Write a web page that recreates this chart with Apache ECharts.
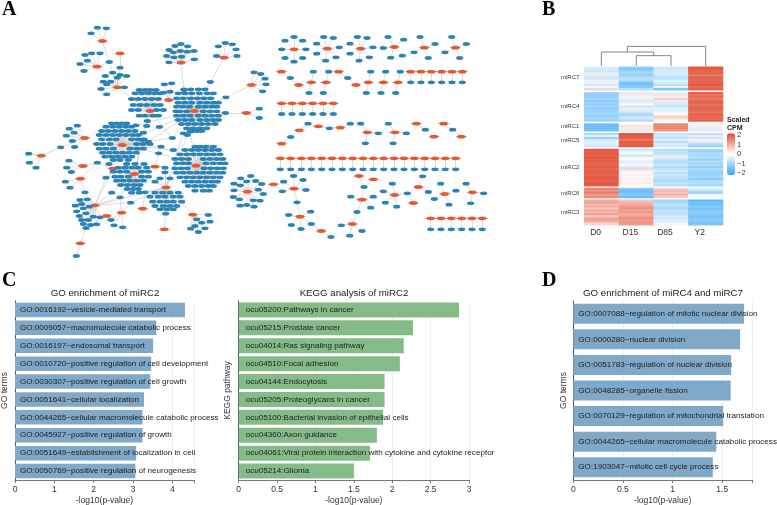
<!DOCTYPE html>
<html><head><meta charset="utf-8">
<style>html,body{margin:0;padding:0;background:#fff}#c{width:777px;height:505px}</style>
<script src="https://cdn.jsdelivr.net/npm/echarts@6/dist/echarts.min.js"></script></head>
<body><div id="c"></div>
<script>
// ---------- bar panels ----------
const goTerms=["GO:0016192~vesicle-mediated transport","GO:0009057~macromolecule catabolic process","GO:0016197~endosomal transport","GO:0010720~positive regulation of cell development","GO:0030307~positive regulation of cell growth","GO:0051641~cellular localization","GO:0044265~cellular macromolecule catabolic process","GO:0045927~positive regulation of growth","GO:0051649~establishment of localization in cell","GO:0050769~positive regulation of neurogenesis"];
const goValues=[4.32,3.59,3.51,3.46,3.44,3.28,3.24,3.24,3.08,3.06];
const keggTerms=["ocu05200:Pathways in cancer","ocu05215:Prostate cancer","ocu04014:Ras signaling pathway","ocu04510:Focal adhesion","ocu04144:Endocytosis","ocu05205:Proteoglycans in cancer","ocu05100:Bacterial invasion of epithelial cells","ocu04360:Axon guidance","ocu04061:Viral protein interaction with cytokine and cytokine receptor","ocu05214:Glioma"];
const keggValues=[2.87,2.27,2.15,2.10,1.90,1.90,1.88,1.80,1.71,1.50];
const go47Terms=["GO:0007088~regulation of mitotic nuclear division","GO:0000280~nuclear division","GO:0051783~regulation of nuclear division","GO:0048285~organelle fission","GO:0070129~regulation of mitochondrial translation","GO:0044265~cellular macromolecule catabolic process","GO:1903047~mitotic cell cycle process"];
const go47Values=[1.72,1.68,1.59,1.585,1.51,1.44,1.405];
// ---------- heatmap ----------
const samples=["D0","D15","D85","Y2"];
const legendTicks=[2,1,0,-1,-2];
const miRC7=[[-0.4,-1.2,-0.5,2.0],[-0.5,-1.4,-0.6,2.0],[-0.6,-1.1,-0.5,1.9],[-0.3,-1.0,-0.4,2.0],[0.3,-1.2,-0.6,1.6],[-0.6,-0.9,-0.8,2.0],[-0.5,-0.8,-0.7,1.9],[0.2,-1.0,-0.3,1.9],[-0.3,-1.5,-0.5,1.9],[-0.5,-1.4,-0.8,2.0],[-0.2,-1.3,-0.2,1.8],[0.5,-0.8,-1.4,1.9]];
const miRC4=[[-1.1,-0.4,-0.3,1.9],[-1.2,0.3,0.4,1.7],[-1.2,-0.2,-0.2,1.8],[-1.0,0.2,0.6,1.6],[-1.3,-0.5,0.3,1.8],[-1.1,-0.3,-0.4,1.9],[-1.2,0.1,-0.5,1.7],[-1.0,-0.6,-0.6,1.8],[-1.2,0.3,-0.3,1.9],[-1.1,-0.4,-0.4,1.8],[-1.0,-0.6,0.1,1.7],[-1.1,-1.0,0.0,1.9],[-1.2,-0.7,0.6,1.8],[-1.0,-0.5,0.5,1.9],[-1.1,-0.9,-0.2,1.9]];
const miRC1=[[-1.6,0.1,1.4,0.2],[-1.7,0.4,1.5,-0.2],[-1.6,-0.3,1.5,0.3],[-1.5,0.3,1.3,-0.4]];
const miRC5=[[-0.9,2.0,-0.6,-0.7],[-0.3,2.0,-0.5,0.3],[-1.1,1.9,-0.7,-0.6],[-0.5,1.6,-0.3,-0.2],[-0.3,2.0,-0.8,0.3],[-0.4,1.9,-0.4,-0.8],[-0.5,2.0,-0.5,-1.1]];
const miRC2=[[2.0,-0.6,-0.8,-1.0],[1.9,-0.3,-0.6,-1.2],[2.0,0.0,-0.8,-0.8],[1.9,-0.6,-0.4,-1.0],[2.0,-0.2,0.3,-0.8],[1.9,0.0,-0.6,-1.1],[2.0,-0.4,-0.9,-0.8],[1.9,0.2,-0.7,-1.1],[2.0,-0.1,-0.6,-0.9],[2.0,-0.5,-0.9,-1.2],[1.9,0.5,-0.7,-0.9],[2.0,-0.2,-0.5,-1.1],[2.0,0.1,-0.8,-1.2],[1.9,0.2,-0.6,-1.1],[2.0,0.1,-0.7,-1.0],[2.0,0.2,-0.8,-1.2],[1.9,0.1,-0.9,-0.9],[2.0,0.2,-0.7,-0.8],[2.0,0.1,-0.8,-1.0]];
const miRC6=[[1.5,-1.3,0.5,-0.3],[1.3,-1.6,0.9,-0.8],[1.6,-1.5,0.7,-1.1],[1.2,-1.3,0.9,-0.2],[1.4,-1.6,0.6,-0.1]];
const miRC3=[[1.0,0.7,-1.0,-1.7],[1.1,0.9,-0.9,-1.5],[0.8,1.0,-0.7,-1.6],[1.0,1.2,-0.8,-1.3],[0.7,1.3,-1.0,-1.5],[1.1,1.1,-0.6,-1.4],[0.9,1.3,-0.7,-1.3],[1.2,1.0,-0.8,-1.4],[0.7,1.2,-0.5,-1.5],[1.1,1.4,-0.6,-1.4],[1.2,1.2,-0.4,-1.3],[0.8,1.3,-0.3,-1.5],[0.5,1.2,-0.2,-1.4]];
const clusterNames=["miRC7","miRC4","miRC1","miRC5","miRC2","miRC6","miRC3"];
const clusterRows=[miRC7,miRC4,miRC1,miRC5,miRC2,miRC6,miRC3];
// dendrogram joins in layout units (x1,x2,top y, leg bottoms)
const dendro=[[319,423,167,198,198],[214,371,156,198,167],[292,527,139,156,198]];
// ---------- network (layout units, left part) ----------
const starsLeft=[
[[307,123],[[292,83],[319,85],[273,100],[328,186]]],
[[360,160],[[360,203]]],
[[291,200],[[255,165],[275,160],[300,160],[262,182],[240,192],[252,213],[328,186]]],
[[352,262],[[328,186],[360,203],[316,228],[360,225],[380,228],[338,218],[352,233],[310,245],[332,245],[320,253],[303,267],[373,262],[320,283]]],
[[543,188],[[507,150],[525,138],[543,132],[563,139],[582,153],[520,157],[541,153],[562,155],[500,168],[522,172],[545,170],[583,178],[507,187],[552,270]]],
[[672,173],[[655,139],[676,129],[697,133],[708,148],[650,168],[711,168],[631,246]]],
[[754,255],[[762,217],[782,222],[795,236],[798,253],[788,274],[678,292]]],
[[739,339],[[676,339],[778,326],[778,354]]],
[[506,300],[[493,253],[515,250],[510,275],[490,278]]],
[[254,414],[[232,377],[208,386],[222,398],[199,407],[217,423],[224,441],[182,442]]],
[[124,467],[[86,461],[88,488],[108,503],[182,442]]],
[[339,506],[[292,488],[327,492],[318,533]]],
[[249,498],[[207,482],[200,503],[214,516],[292,488]]],
[[241,536],[[196,545],[210,563],[292,488],[255,577]]],
[[285,616],[[255,577],[240,600],[262,598],[226,617],[245,612],[230,634],[250,625],[268,620],[238,648],[258,640],[280,650],[300,652],[245,660],[265,660],[290,673],[272,675],[250,672],[335,578],[360,592],[392,608],[318,533]]],
[[365,638],[[342,676],[368,682],[333,660],[392,608],[360,592]]],
[[320,648],[[342,676],[258,684]]],
[[428,626],[[435,577]]],
[[241,730],[[258,684],[229,768]]],
[[493,688],[[497,641]]],
[[578,644],[[625,645],[630,665],[590,658],[585,678],[572,686],[595,696],[615,685],[605,668]]],
[[465,500],[[495,503],[483,440]]]
];
const denseHub8=[583,333], denseHub9=[450,333], denseHub14=[367,435], denseHub15=[588,497], denseHub16=[403,522], denseHub17=[498,562];
const dense8=[[268,552,572,595,615],[280,535,555,575,598,622,640],[295,530,550,572,592,612,632],[308,535,555,575,600,620,640,655],[320,530,548,568,595,615,635,650],[334,528,540,560,610,630,650],[347,530,550,570,595,615,635,655],[360,535,555,575,600,620,640,655],[372,545,565,585,605,625,645],[385,560,580,600,620],[393,575,590,605]];
const dense9=[[270,418,435,450,468],[280,405,425,445,463,480],[297,395,415,435,455,475],[315,400,420,440,462,480],[330,395,415,470,490],[347,418,435,458,475],[363,442]];
const dense14=[[370,335,350,365,380],[380,318,338,358,378,395],[393,305,325,345,365,385,405],[405,298,318,338,358,378,398,415],[418,305,328,348,395,415,432],[432,290,308,330,410,430,450],[446,298,318,340,390,410,430],[458,308,328,348,368,388,408],[470,315,335,355,375,395],[480,340,360,385]];
const dense15=[[440,585,600,618,640],[450,555,575,595,615,635,655],[463,540,560,580,600,620,640,660],[477,525,545,565,610,630,650,668],[490,530,548,565,618,640,660,675],[505,525,543,562,612,632,652,670],[518,530,550,570,590,610,630,650,668],[532,540,560,580,600,620,640,660],[545,555,575,595,615,635,652],[558,565,585,605,625,640],[572,585,610,628]];
const dense16=[[492,380,405,432],[503,355,375,395,415,440],[515,340,360,380,425,445],[530,345,362,385,425,445],[542,350,370,390,410,430],[555,362,382,402,420],[567,382,400,415],[578,395,418]];
const dense17=[[517,495],[535,480,510],[545,465],[578,465,488,510,535],[590,450,475,495,520,540],[605,458,480,500,520,545],[618,465,490,510,530],[628,480,500,520],[641,497]];
const crossLinks=[
[[450,333],[352,262]],[[450,333],[440,378]],[[440,378],[403,522]],[[450,333],[430,398]],[[430,398],[403,522]],
[[583,333],[478,381]],[[478,381],[367,435]],[[583,333],[517,414]],[[517,414],[367,435]],[[450,333],[517,414]],
[[583,333],[550,400]],[[550,400],[498,562]],[[583,333],[570,395]],[[570,395],[588,497]],[[583,333],[562,405]],[[562,405],[498,562]],
[[367,435],[483,440]],[[483,440],[588,497]],[[367,435],[476,460]],[[476,460],[588,497]],[[367,435],[520,450]],[[520,450],[588,497]],
[[367,435],[427,420]],[[427,420],[403,522]],[[367,435],[445,425]],[[445,425],[583,333]],[[408,376],[583,333]],[[408,376],[367,435]],
[[403,522],[465,500]],[[495,503],[498,562]],[[335,578],[403,522]],[[392,608],[498,562]],[[360,592],[403,522]],[[435,577],[498,562]],
[[498,562],[578,644]],[[497,641],[498,562]],[[506,300],[450,333]],[[506,300],[583,333]],[[552,270],[583,333]],[[631,246],[583,333]],[[678,292],[583,333]],[[676,339],[583,333]],
[[285,616],[339,506]],[[285,616],[498,562]]
];
// ---------- network (layout units, right part, relative to its own block) ----------
const starsRight=[
[[67,515],[[47,475],[77,468],[27,491],[46,496],[65,484],[92,483],[110,492],[27,511],[100,509],[115,522],[25,531],[43,538],[85,541],[105,542],[45,557],[65,555],[87,560]]],
[[207,88],[[207,51],[233,62],[243,88],[233,114],[207,125],[180,114],[170,88],[180,62]]],
[[307,86],[[296,51],[325,54],[343,82],[333,112],[302,122],[275,101],[275,71]]],
[[407,86],[[397,51],[426,54],[444,82],[433,112],[402,122],[375,101],[375,71]]],
[[508,81],[[489,51],[536,59],[532,107],[497,113],[475,84]]],
[[598,83],[[585,51],[630,72],[610,114],[567,97]]],
[[691,83],[[680,51],[724,72],[704,114],[660,97]]],
[[259,187],[[265,155],[252,219]]],[[303,187],[[311,155],[295,219]]],
[[430,187],[[437,155],[424,219]]],[[475,187],[[482,155],[468,219]]],[[519,187],[[526,155],[512,219]]],
[[427,337],[[407,311],[460,340],[421,370]]],[[510,337],[[490,311],[544,340],[504,370]]],
[[145,493],[[176,485],[172,514]]],
[[207,506],[[176,485],[172,514],[206,468],[234,480],[243,510],[216,547]]],
[[225,590],[[216,547],[191,585],[257,575],[199,615],[228,627],[259,612]]],
[[289,633],[[259,612],[318,651]]],
[[402,468],[[417,501]]],[[445,478],[[417,501]]],
[[411,539],[[417,501],[377,530],[445,530],[437,563],[396,576]]],
[[382,612],[[396,576],[349,616],[411,633],[374,647]]],
[[509,525],[[502,491],[475,514],[547,520],[481,548],[515,560]]],
[[580,501],[[593,469],[547,520],[610,516]]],[[565,549],[[547,520]]],
[[659,522],[[647,491],[693,512],[628,537],[672,554]]],
[[742,517],[[723,491],[776,520],[737,550]]]
];
const chainsRight=[
[[169,155],[196,174],[221,195]],[[341,155],[368,174],[393,195]],
[[170,371],[197,351],[223,331],[249,311],[280,319],[313,325],[346,323],[376,311]],
[[574,311],[601,329],[627,350]],[[656,311],[683,329],[709,350]]
];
const pairRows=[
[155,187,[557,588,619,650,681,712]],
[250,282,[170,201,232,263,294,325]],
[415,448,[166,197,229,259,290,321,352,383,414,445,476,507,537,568,599,630,661,692]],
[595,628,[617,648,679,710,741,772]]
];
const rightOffset=[675,60], dendroOffset=[1590,0];

// ---------- build ----------
const nodes=[],links=[],idx={};
function node(p,hub){const k=p[0]+','+p[1];if(idx[k]===undefined){idx[k]=nodes.length;nodes.push({value:[p[0],p[1]],hub:!!hub});}else if(hub)nodes[idx[k]].hub=true;return idx[k];}
function link(a,b,ha,hb){links.push({source:node(a,ha),target:node(b,hb)});}
function stars(list,off){list.forEach(s=>{const h=[s[0][0]+off[0],s[0][1]+off[1]];node(h,true);s[1].forEach(l=>link(h,[l[0]+off[0],l[1]+off[1]],true,false));});}
stars(starsLeft,[0,0]);stars(starsRight,rightOffset);
[[denseHub8,dense8],[denseHub9,dense9],[denseHub14,dense14],[denseHub15,dense15],[denseHub16,dense16],[denseHub17,dense17]].forEach(([h,rows])=>{node(h,true);rows.forEach(r=>r.slice(1).forEach(x=>link(h,[x,r[0]],true,false)));});
crossLinks.forEach(c=>link(c[0],c[1]));
chainsRight.forEach(c=>{for(let i=0;i+1<c.length;i++){const a=[c[i][0]+675,c[i][1]+60],b=[c[i+1][0]+675,c[i+1][1]+60];link(a,b,i%2==0,i%2==1);}});
pairRows.forEach(r=>r[2].forEach(x=>link([x+675,r[0]+60],[x+675,r[1]+60],true,false)));
const graphData=nodes.map(n=>({value:n.value,symbolSize:n.hub?[8.5,3.8]:[7.2,3.9],itemStyle:{color:n.hub?'#e8582f':'#2a82b6'}}));
const hubPts=nodes.filter(n=>n.hub).map(n=>n.value);

const heatData=[],rowNames=[];let row=0;
clusterRows.forEach((rows,ci)=>{const mid=Math.floor((rows.length-1)/2);rows.forEach((vals,i)=>{rowNames.push(i===mid?clusterNames[ci]:'');vals.forEach((v,c)=>heatData.push([c,row,v]));row++;});if(ci<clusterRows.length-1){rowNames.push('');row++;}});
const dendroLines=dendro.map(d=>({coords:[[d[0],d[3]],[d[0],d[2]],[d[1],d[2]],[d[1],d[4]]].map(p=>[p[0]+dendroOffset[0],p[1]+dendroOffset[1]])}));

const font='"Liberation Sans",Arial,sans-serif';
function barX(i,max,intv,name,showMax){return {gridIndex:i,type:'value',min:0,max:max,interval:intv,name:name,nameLocation:'middle',nameGap:16,nameTextStyle:{fontSize:8.5,color:'#333',fontFamily:font},
 axisLine:{show:true,lineStyle:{color:'#777',width:1}},axisTick:{show:true,length:3,lineStyle:{color:'#777'}},minorTick:{show:true,splitNumber:5,length:1.5,lineStyle:{color:'#999'}},
 splitLine:{show:true,lineStyle:{color:'#f0f0f0',width:1}},axisLabel:{fontSize:8.5,color:'#333',margin:5.5,fontFamily:font,showMaxLabel:showMax,showMinLabel:true}};}
function barY(i,cats,name,gap){return {gridIndex:i,type:'category',data:cats,inverse:true,name:name,nameLocation:'middle',nameGap:gap,nameTextStyle:{fontSize:8.5,color:'#333',fontFamily:font},
 axisLine:{show:true,lineStyle:{color:'#555',width:1}},axisTick:{show:false},axisLabel:{show:false},splitLine:{show:false}};}
function barS(i,vals,color,w,dist){return {type:'bar',xAxisIndex:i,yAxisIndex:i,data:vals,barWidth:w,itemStyle:{color:color},silent:true,
 label:{show:true,position:'insideLeft',distance:dist,formatter:p=>p.name,fontSize:8.1,color:'#1c1c1c',fontFamily:font}};}
const letter=(t,l,tp)=>({text:t,left:l,top:tp,padding:0,textStyle:{fontFamily:'"Liberation Serif",serif',fontWeight:'bold',fontSize:20,color:'#000'}});
const ttl=(t,cx,tp,fs)=>({text:t,left:cx,top:tp,textAlign:'center',padding:0,textStyle:{fontFamily:font,fontWeight:'normal',fontSize:fs,color:'#222'}});

const gridBase={outerBoundsMode:'none',containLabel:false};
const option={animation:false,backgroundColor:'#fff',
 title:[letter('A',2,0),letter('B',542,0),letter('C',2,271),letter('D',542,271),
  ttl('GO enrichment of miRC2',105,288.5,9.7),ttl('KEGG analysis of miRC2',354,288.5,9.7),ttl('GO enrichment of miRC4 and miRC7',663,288.5,9.7),
  {text:'Scaled\nCPM',left:727,top:116,padding:0,textStyle:{fontFamily:font,fontWeight:'bold',fontSize:7,lineHeight:8,color:'#222'}}],
 grid:[{left:15,width:179,top:301,height:179},{left:238.7,width:230.3,top:301,height:179},{left:573.3,width:178.7,top:301,height:179},
  {left:0,top:0,width:777,height:505},{left:584.3,width:138.7,top:66.7,height:158.6},{left:727,width:8,top:133.3,height:41.7}].map(g=>Object.assign({},gridBase,g)),
 xAxis:[barX(0,4.55,1,'-log10(p-value)',false),barX(1,3,0.5,'-log10(p-value)',true),barX(2,1.8,0.5,'-log10(p-value)',false),
  {gridIndex:3,type:'value',min:0,max:2331,show:false},
  {gridIndex:4,type:'category',data:samples,axisLine:{show:false},axisTick:{show:false},splitLine:{show:false},axisLabel:{fontSize:8.5,color:'#333',fontFamily:font,margin:3,padding:[0,12,0,0]}},
  {gridIndex:5,type:'value',min:0,max:1,show:false}],
 yAxis:[barY(0,goTerms,'GO terms',6),barY(1,keggTerms,'KEGG pathway',6.5),barY(2,go47Terms,'GO terms',5.4),
  {gridIndex:3,type:'value',min:0,max:1515,inverse:true,show:false},
  {gridIndex:4,type:'category',data:rowNames,inverse:true,axisLine:{show:false},axisTick:{show:false},splitLine:{show:false},axisLabel:{interval:0,fontSize:6,color:'#333',margin:5,fontFamily:font}},
  {gridIndex:5,type:'value',min:-2.2,max:2.2,position:'right',axisLine:{show:false},axisTick:{show:false},splitLine:{show:false},
   axisLabel:{fontSize:7.5,color:'#333',margin:2,fontFamily:font,customValues:legendTicks,formatter:v=>String(v).replace('-','\u2212')}}],
 visualMap:{type:'continuous',min:-2.2,max:2.2,seriesIndex:3,dimension:2,calculable:false,show:true,left:727,top:133.3,itemWidth:8,itemHeight:41.7,padding:0,text:null,showLabel:false,
   inRange:{color:['#35a6f7','#ffffff','#e2492f']},textStyle:{fontSize:1,color:'rgba(0,0,0,0)'}},
 series:[barS(0,goValues,'#7fa8c9',14.5,5),barS(1,keggValues,'#85bb88',15,7),barS(2,go47Values,'#7fa8c9',20,5),
  {type:'heatmap',xAxisIndex:4,yAxisIndex:4,data:heatData,silent:true,itemStyle:{borderWidth:0}},
  {type:'scatter',xAxisIndex:3,yAxisIndex:3,data:hubPts,symbol:'rect',symbolSize:[11.5,0.7],itemStyle:{color:'#8a8a8a'},silent:true,z:1},
  {type:'graph',coordinateSystem:'cartesian2d',xAxisIndex:3,yAxisIndex:3,data:graphData,links:links,layout:'none',silent:true,z:2,
   lineStyle:{color:'#c4c4c4',width:0.6,opacity:1,curveness:0},label:{show:false},edgeSymbol:['none','none']},
  {type:'lines',coordinateSystem:'cartesian2d',xAxisIndex:3,yAxisIndex:3,polyline:true,data:dendroLines,silent:true,lineStyle:{color:'#777',width:0.9,opacity:1}}
 ]};
const chart=echarts.init(document.getElementById('c'),null,{renderer:'canvas'});
chart.setOption(option);
</script></body></html>
